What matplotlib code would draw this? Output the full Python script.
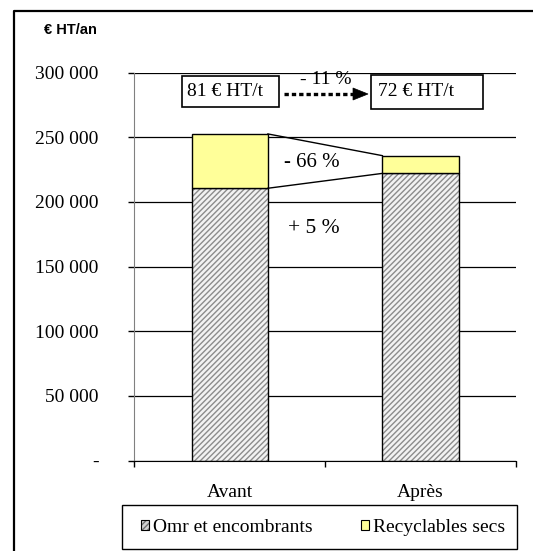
import matplotlib
matplotlib.use('Agg')
import matplotlib.pyplot as plt
from matplotlib.patches import Patch, Rectangle, Polygon
from matplotlib.lines import Line2D
import numpy as np

# data
categories = ['Avant', 'Après']
omr = [210500, 222000]          # Omr et encombrants
recyclables = [42000, 13700]    # Recyclables secs
yticks = [0, 50000, 100000, 150000, 200000, 250000, 300000]
ytick_labels = ['-', '50 000', '100 000', '150 000', '200 000', '250 000', '300 000']
series_labels = ['Omr et encombrants', 'Recyclables secs']
price_labels = ['81 € HT/t', '72 € HT/t']
price_change = '- 11 %'
recy_change = '- 66 %'
omr_change = '+ 5 %'

plt.rcParams['font.family'] = ['Liberation Serif', 'DejaVu Serif']
plt.rcParams['hatch.linewidth'] = 1.0

W, H = 533, 551
fig = plt.figure(figsize=(W / 100, H / 100), dpi=100)

def fx(px):
	return px / W

def fy(py):
	return 1 - py / H

# main axes (pixel box: x 134..516, y 72.5..460.5)
ax = fig.add_axes([fx(134.3), fy(460.5), fx(516) - fx(134.3), fy(72.5) - fy(460.5)])
x = np.arange(len(categories))
w = 0.40
yellow = '#ffff99'

ax.bar(x, omr, w, color='#f2f2f2', hatch='//////', edgecolor='#8c8c8c', lw=0, zorder=2)
ax.bar(x, omr, w, fill=False, edgecolor='black', lw=1, zorder=3)
ax.bar(x, recyclables, w, bottom=omr, color=yellow, edgecolor='black', lw=1, zorder=3)

totals = [o + r for o, r in zip(omr, recyclables)]
# connector lines between bars
ax.plot([x[0] + w / 2, x[1] - w / 2], [totals[0], totals[1]], c='black', lw=1, zorder=3)
ax.plot([x[0] + w / 2, x[1] - w / 2], [omr[0], omr[1]], c='black', lw=1, zorder=3)

ax.text(0.431, 230500, recy_change, ha='center', va='center', fontsize=15)
ax.text(0.442, 179200, omr_change, ha='center', va='center', fontsize=15.5)

ax.set_xlim(-0.5, 1.5)
ax.set_ylim(0, 300000)
ax.set_yticks(yticks)
ax.set_yticklabels(ytick_labels, fontsize=14)
ax.set_xticks(x)
ax.set_xticklabels(categories, fontsize=14)
ax.set_xticks([-0.5, 0.5, 1.5], minor=True)
ax.tick_params(axis='x', which='major', length=0, pad=17)
ax.tick_params(axis='x', which='minor', length=4, width=1, direction='out', color='black')
ax.tick_params(axis='y', length=4.3, width=1, direction='out', color='black', pad=21.5)
ax.yaxis.grid(True, color='black', lw=0.9)
ax.set_axisbelow(True)
ax.spines['top'].set_visible(False)
ax.spines['right'].set_visible(False)
ax.spines['left'].set_color('#808080')
ax.spines['bottom'].set_color('black')
ax.patch.set_alpha(0)

# overlay in pixel coordinates for the annotations
ov = fig.add_axes([0, 0, 1, 1], zorder=5)
ov.set_xlim(0, W)
ov.set_ylim(H, 0)
ov.axis('off')
ov.patch.set_alpha(0)

# outer frame
ov.add_line(Line2D([13.5, 13.5, W + 2], [H + 2, 11.3, 11.3], c='black', lw=1.6))

ov.text(70, 30, '€ HT/an', ha='center', va='center', fontsize=10.5,
		fontweight='bold', family=['Liberation Sans', 'DejaVu Sans'])

# price boxes and arrow
ov.add_patch(Rectangle((182, 75.7), 97, 31.6, fill=False, ec='black', lw=1.2))
ov.add_patch(Rectangle((371, 75), 112, 34, fill=False, ec='black', lw=1.2))
ov.text(186.7, 92, price_labels[0], ha='left', va='center', fontsize=14)
ov.text(378, 92, price_labels[1], ha='left', va='center', fontsize=14)
ov.plot([284, 354], [94, 94], c='black', lw=2.4, dashes=(1.3, 0.9), solid_capstyle='butt',
		dash_capstyle='butt')
ov.add_patch(Polygon([(353, 88), (368, 94), (353, 100)], closed=True, fc='black', ec='black', lw=0.5))
ov.text(326, 80, price_change, ha='center', va='center', fontsize=14)

# legend
ov.add_patch(Rectangle((122, 505.3), 395, 44, fill=False, ec='black', lw=1))
h_omr = (Patch(facecolor='#d0d0d0', hatch='//////', edgecolor='#6f6f6f', lw=0),
		 Patch(fill=False, edgecolor='black', lw=0.8))
h_rec = Patch(facecolor=yellow, edgecolor='black', lw=0.8)
fig.legend([h_omr, h_rec], series_labels, loc='center', ncol=2,
		   bbox_to_anchor=(fx(323), fy(527.5)), frameon=False, fontsize=14,
		   handlelength=0.4, handleheight=0.4, handletextpad=0.2, columnspacing=2.5)

fig.savefig('out.png', dpi=100)
